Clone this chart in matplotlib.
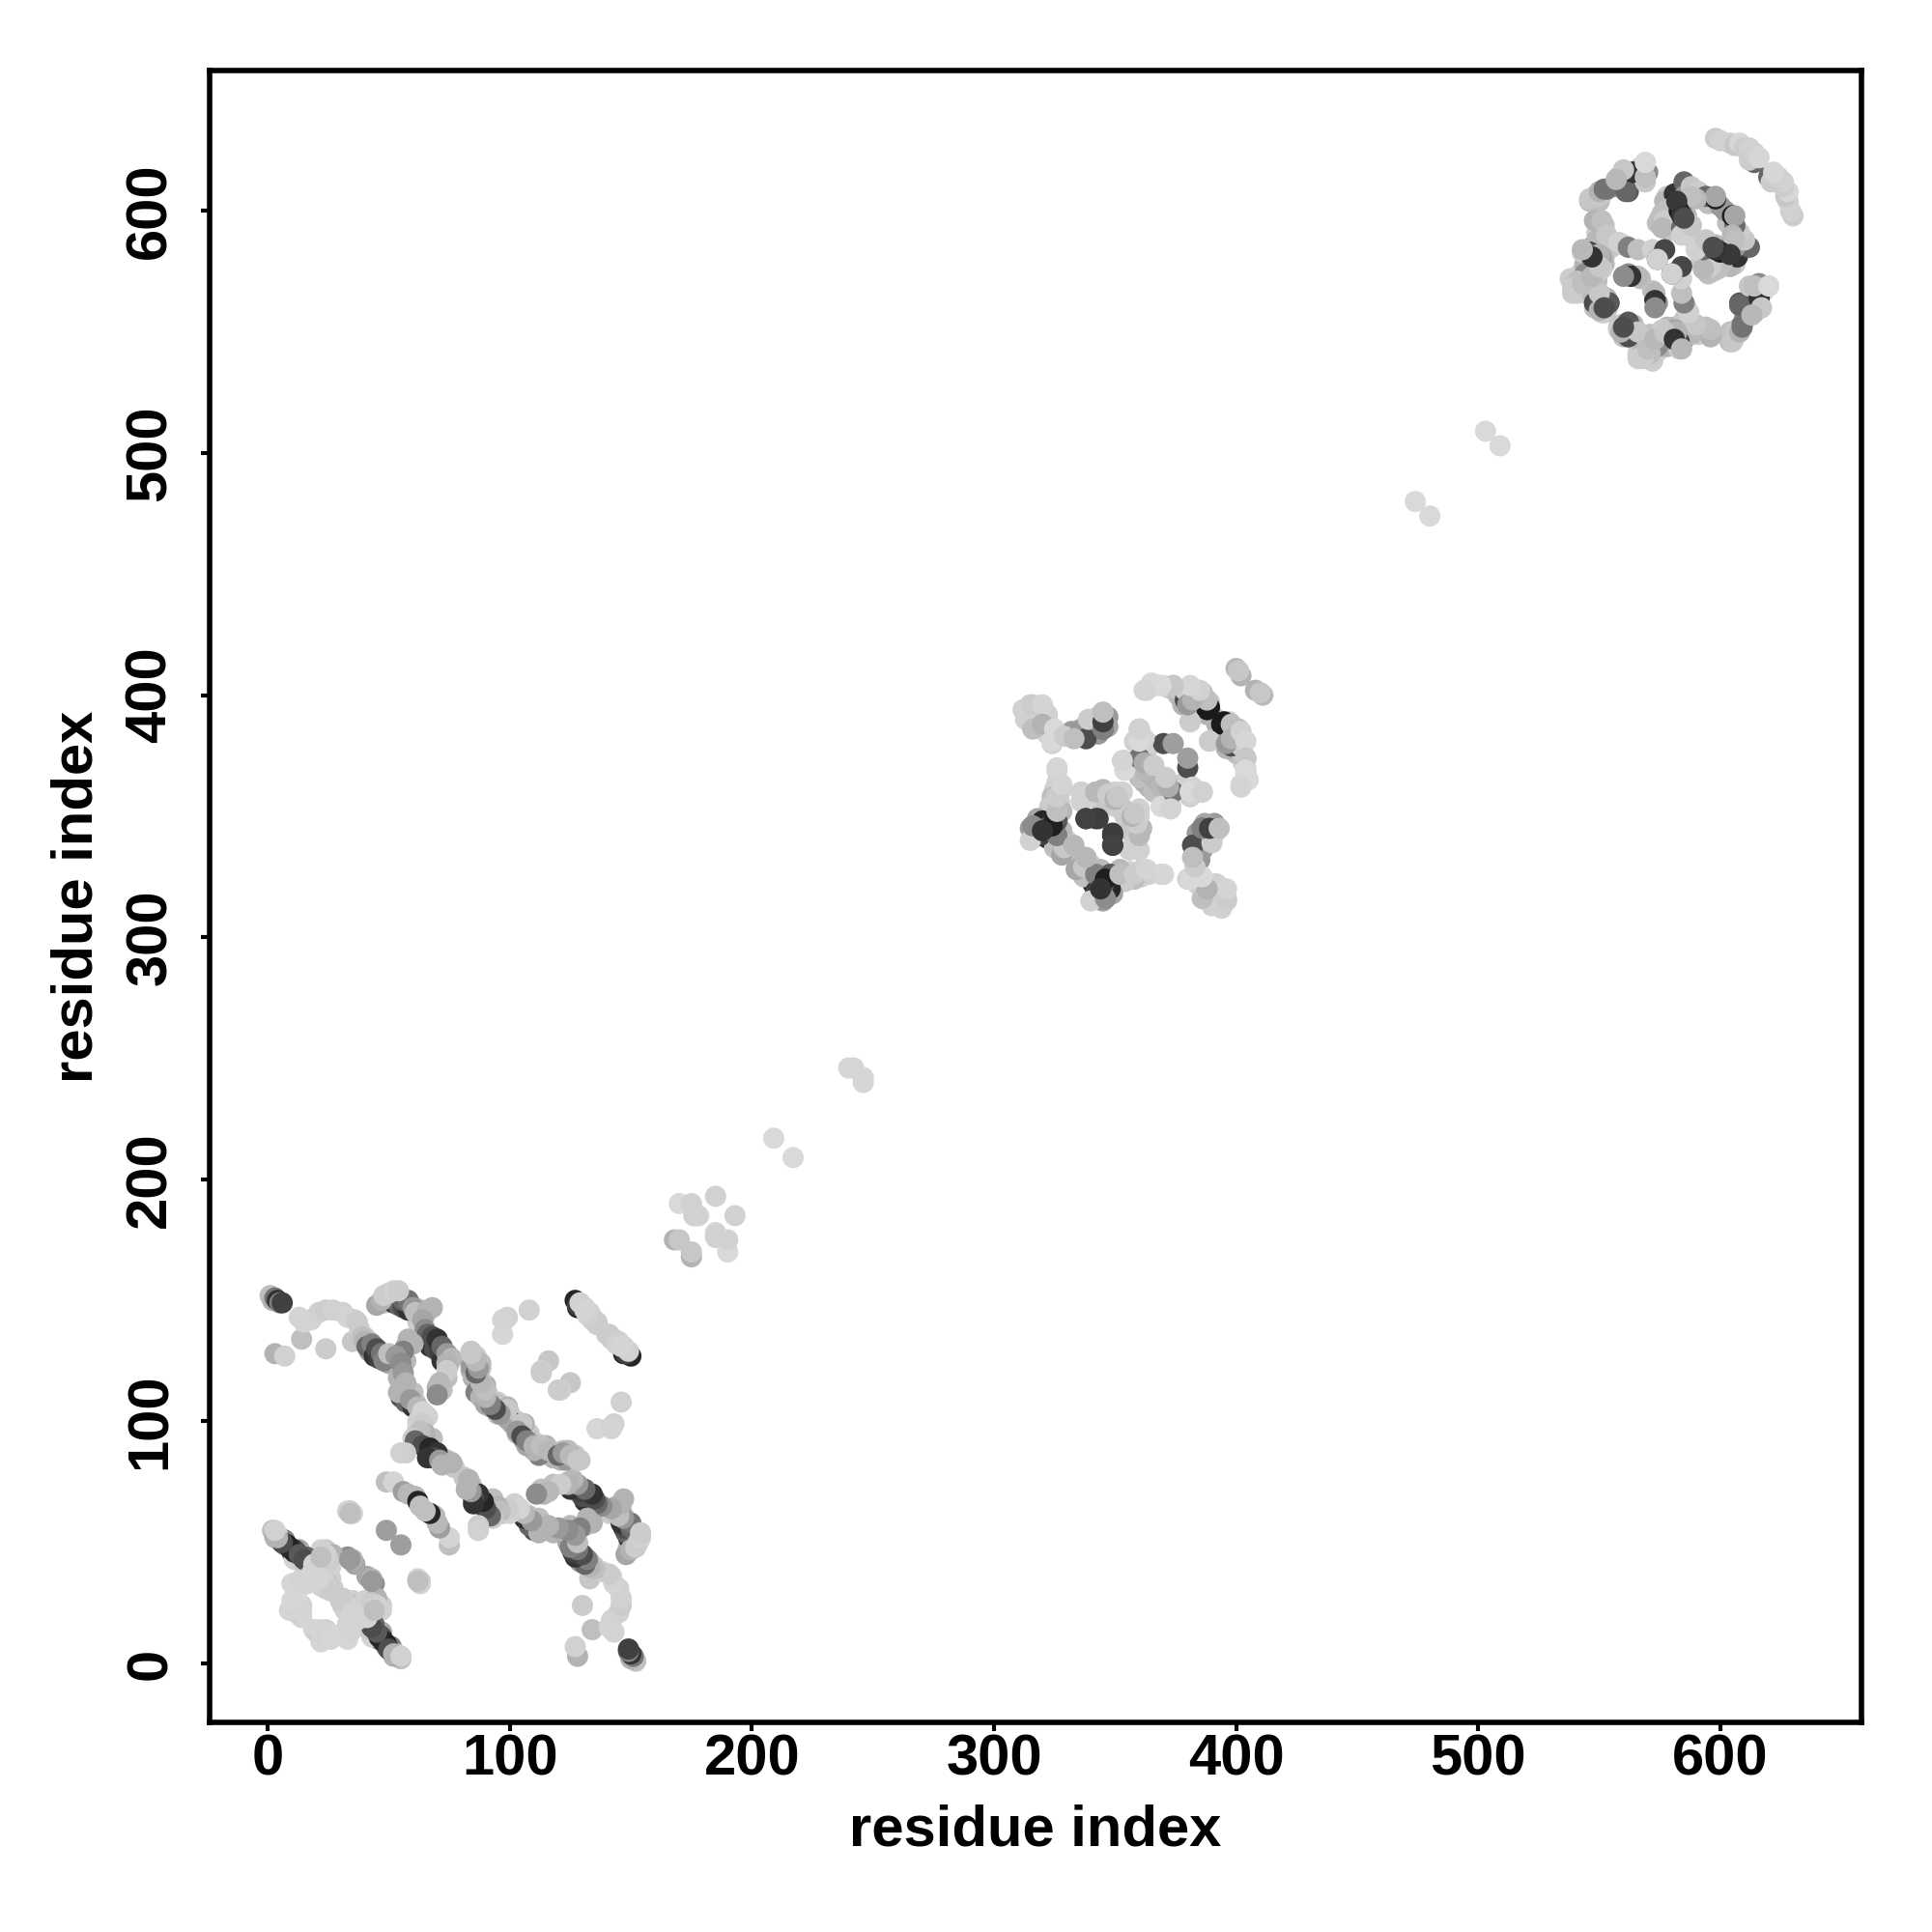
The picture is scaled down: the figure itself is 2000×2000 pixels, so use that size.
import numpy as np
import matplotlib
matplotlib.use("Agg")
import matplotlib.pyplot as plt

plt.rcParams['font.family'] = ['Liberation Sans', 'DejaVu Sans']

tick_values = [0, 100, 200, 300, 400, 500, 600]
axis_label = "residue index"

# Contact map is symmetric: each contact (i, j, shade) is drawn at (i, j) and (j, i).
# The *_under contacts are drawn first, the others on top of them.
domain1_under = [
 (42,129,.6),(44,131,.65),(46,129,.7),(49,127,.6),(52,125,.75),(50,124,.65),(53,125,.8),(40,135,.8),(42,133,.78),
 (48,149,.75),(50,151,.72),(53,151,.55),(55,149,.6),(57,148,.7),(59,148,.75),(61,147,.8),(63,146,.72),(65,144,.75),(62,141,.8),
 (67,134,.6),(70,132,.7),(72,128,.65),(73,127,.72),(75,124,.75),(70,129,.7),(68,132,.55),(66,133,.65),(65,135,.7),(74,118,.75),(72,113,.75),(70,114,.7),
 (57,131,.7),(55,127,.65),(57,125,.72),(54,118,.7),(56,113,.65),(58,111,.7),(61,108,.8),(60,112,.75),(63,102,.8),(66,102,.82),(62,97,.78),(66,93,.72),(68,93,.75),(63,92,.7),(66,88,.6),(69,85,.65),(72,85,.72),(74,84,.75),(77,81,.78),
 (85,127,.72),(88,122,.78),(87,120,.7),(89,115,.7),(88,114,.65),(90,113,.75),(91,110,.72),(93,107,.78),(95,108,.8),(97,105,.8),(96,103,.7),(100,103,.72),(103,100,.8),(104,97,.78),(106,96,.75),(107,94,.7),(106,92,.65),(109,92,.72),(111,91,.8),(112,88,.72),(115,90,.7),(118,87,.6),(118,85,.65),(121,84,.7),(124,88,.72),(127,86,.8),(124,85,.6),
 (3,52,.7),(7,51,.5),(10,46,.35),(12,44,.55),(13,47,.65),(14,45,.8),(11,43,.83),(24,42,.8),(26,44,.78),(24,47,.8),(33,44,.55),(36,41,.65),
 (14,33,.82),(15,36,.83),(20,36,.83),(22,33,.8),(24,31,.75),(26,35,.8),(27,30,.78),(13,24,.83),(11,24,.85),(14,19,.83),(12,21,.8),(22,9,.83),(25,11,.84),(24,14,.82),(27,12,.85),
 (33,26,.83),(32,22,.82),(34,18,.83),(35,14,.82),(33,10,.84),(36,24,.8),(40,26,.82),(42,24,.8),(45,27,.7),(47,22,.82),(41,17,.82),(43,17,.6),(44,16,.4),(46,12,.5),(47,10,.3),(49,7,.55),(51,5,.72),(53,4,.75),
]
domain1 = [
 (1,152,.75),(2,150,.7),(3,151,.45),(4,150,.2),(5,149,.5),(6,149,.25),
 (3,128,.7),(7,127,.82),(14,134,.75),(24,130,.8),(35,133,.78),
 (13,143,.83),(15,141,.83),(18,142,.83),(21,145,.82),(24,146,.8),(27,146,.82),(31,145,.82),
 (33,143,.83),(36,142,.82),(38,138,.82),(37,141,.8),
 (39,135,.75),(40,133,.7),(41,131,.4),(43,132,.5),(44,127,.2),(45,130,.3),(46,126,.25),(47,128,.45),
 (51,127,.4),(48,125,.5),(50,128,.75),
 (50,150,.3),(52,149,.2),(54,148,.4),(56,147,.3),(58,146,.2),(56,150,.4),(58,150,.45),
 (45,148,.65),(47,150,.7),(48,152,.8),(50,153,.8),(52,154,.82),(54,154,.8),
 (60,147,.6),(61,145,.75),(63,144,.75),(66,146,.7),(68,147,.7),(64,142,.65),(65,138,.55),
 (67,131,.2),(69,130,.3),(71,129,.25),(66,136,.4),(68,135,.3),(70,134,.2),(72,125,.2),(72,131,.4),
 (74,128,.6),(76,126,.72),(74,124,.7),(74,121,.8),(71,116,.72),(70,111,.55),
 (58,134,.7),(60,132,.7),(56,129,.5),(53,127,.6),(55,124,.55),(56,120,.6),(57,116,.7),
 (55,110,.3),(57,108,.4),(60,106,.2),(54,112,.7),(59,109,.6),(62,106,.72),(64,104,.83),
 (62,100,.82),(64,99,.8),(65,95,.7),(63,96,.75),(60,93,.8),
 (61,92,.4),(64,90,.3),(67,89,.15),(70,87,.2),(68,85,.3),(66,85,.2),(71,84,.6),(72,82,.7),(76,83,.7),
 (57,87,.8),(55,87,.82),
 (86,120,.3),(84,129,.78),(87,125,.75),(84,123,.6),(85,118,.7),(88,117,.78),(86,112,.5),(88,110,.7),
 (90,107,.65),(92,108,.75),(94,105,.75),(96,106,.8),(98,103,.1),(99,106,.7),(95,103,.75),
 (102,99,.2),(101,99,.65),(105,99,.78),(103,96,.6),(105,94,.3),(107,92,.5),(110,90,.7),(113,90,.75),
 (116,88,.72),(120,86,.4),(122,87,.6),(125,86,.72),(128,84,.78),
 (127,150,.15),(147,128,.15),(128,148,.25),(129,149,.82),(131,147,.82),(133,145,.83),(134,143,.82),
 (136,141,.8),(140,136,.8),(142,134,.8),(144,132,.82),(146,131,.83),
 (99,143,.82),(97,136,.84),(98,142,.82),(97,142,.83),(108,146,.82),(116,125,.78),(113,121,.82),(113,120,.8),
 (2,55,.75),(3,54,.6),(5,52,.5),(6,50,.15),(8,49,.1),(9,48,.15),(11,47,.25),(12,46,.35),(14,42,.8),
 (4,53,.85),(48,9,.15),(46,11,.15),(50,6,.3),(52,4,.7),(55,3,.82),(45,13,.35),(43,15,.3),
 (34,63,.78),(35,62,.82),(24,45,.75),(25,43,.8),(34,43,.6),(35,43,.7),(43,34,.6),
 (25,33,.75),(27,31,.8),(23,35,.82),(13,34,.83),(16,33,.83),(18,36,.84),
 (13,22,.83),(14,21,.83),(23,12,.83),(26,10,.84),
 (32,24,.82),(33,16,.83),(30,26,.8),(35,21,.83),(37,18,.83),(41,19,.83),(45,24,.82),(44,22,.75),
 (49,55,.62),(63,33,.82),(62,34,.75),
 (49,75,.75),(52,75,.83),(56,71,.62),(58,70,.72),(61,69,.72),(62,67,.15),(63,65,.75),
]

domain_small = [
 (168,175,.7),(170,175,.78),(170,190,.85),(175,190,.82),(176,185,.82),(178,185,.84),(185,193,.82),
 (177,185,.82),(209,217,.85),(240,246,.84),(242,246,.84),(474,480,.85),(503,509,.85),
]

domain2_under = [
 (318,394,.82),(322,392,.82),(318,388,.8),(322,384,.82),(327,384,.8),(335,384,.72),(340,386,.65),(341,388,.75),(343,384,.6),(343,391,.7),(347,391,.6),(347,387,.65),
 (368,404,.82),(372,403,.8),(376,400,.75),(378,396,.7),(380,400,.8),(384,399,.72),(386,397,.6),(390,392,.8),(392,388,.7),(394,385,.75),(396,383,.72),(397,378,.7),(400,380,.78),(402,377,.8),(399,386,.8),
 (361,383,.8),(363,377,.8),(358,381,.82),(362,369,.7),(358,370,.65),(363,372,.75),(364,362,.7),(366,360,.75),(368,364,.65),(366,366,.7),(369,362,.72),
 (326,364,.82),(325,359,.8),(327,356,.8),(324,351,.75),(326,349,.72),(322,347,.5),(320,345,.55),(318,345,.7),(323,344,.6),(328,343,.72),(330,340,.8),(331,335,.75),(325,340,.4),(335,332,.75),(338,330,.72),(340,327,.7),(344,328,.72),(346,322,.55),(349,324,.6),(347,318,.7),(350,323,.8),(354,325,.78),(356,327,.82),(361,325,.82),
 (340,358,.8),(345,361,.72),(350,360,.82),(352,355,.78),(354,350,.8),(356,344,.78),(357,349,.75),(358,339,.82),(356,336,.82),
 (384,343,.6),(386,345,.35),(388,343,.72),(390,342,.82),(383,336,.7),(385,332,.6),(380,324,.82),(391,322,.82),(394,317,.82),(392,314,.82),(390,313,.82),(396,315,.8),
]
domain2 = [
 (312,394,.82),(316,396,.8),(320,396,.83),(316,386,.75),(320,388,.7),(325,386,.85),(324,381,.85),
 (329,383,.8),(336,386,.6),(338,382,.3),(333,382,.75),(339,390,.8),(345,386,.5),(345,389,.25),(345,393,.75),
 (363,402,.83),(366,404,.84),(370,404,.85),(374,404,.78),(379,398,.3),(379,402,.8),(382,402,.85),
 (386,401,.72),(388,394,.1),(389,397,.78),(381,389,.8),(389,381,.8),(395,389,.1),(396,380,.6),
 (398,388,.75),(398,382,.7),(402,385,.82),(404,381,.84),(404,374,.78),(404,369,.85),(405,365,.85),(402,362,.83),
 (400,411,.72),(402,408,.7),(401,410,.78),
 (360,386,.82),(360,380,.8),(364,380,.82),(370,380,.3),(374,380,.62),
 (354,373,.82),(354,369,.85),(360,374,.45),(362,372,.68),(366,371,.8),
 (362,382,.83),(360,381,.85),(353,373,.83),(360,386,.82),
 (326,369,.82),(328,361,.82),(324,358,.75),(323,354,.8),(328,352,.72),
 (318,349,.65),(315,345,.62),(320,348,.15),(316,341,.82),(322,341,.1),(326,341,.55),(325,337,.75),
 (328,334,.7),(332,338,.78),(321,345,.35),(319,342,.25),
 (336,360,.82),(342,360,.72),(347,359,.8),(350,357,.7),(353,360,.82),(351,358,.78),
 (338,349,.22),(343,349,.24),(349,342,.24),(349,338,.26),
 (334,328,.65),(337,329,.78),(342,326,.5),(338,333,.72),(348,326,.35),(346,324,.12),
 (340,315,.82),(346,316,.55),(352,326,.75),(358,326,.8),(363,328,.83),(370,326,.84),(344,320,.2),
]

domain3_under = [
 (550,604,.75),(552,608,.7),(556,610,.6),(560,612,.72),(563,612,.75),(566,614,.7),(568,616,.72),(567,618,.8),
 (552,594,.75),(549,591,.8),(551,585,.7),(553,584,.75),(547,585,.5),(549,580,.45),(552,581,.72),(545,580,.4),(548,575,.6),(552,578,.72),(546,572,.7),(542,572,.8),(545,566,.75),(547,568,.6),(549,562,.45),(552,562,.7),(553,559,.78),(555,585,.78),(560,586,.8),
 (578,606,.8),(579,603,.65),(580,599,.75),(583,608,.7),(586,609,.75),(587,606,.8),(578,599,.8),(575,597,.78),(574,595,.75),(579,592,.78),(582,596,.7),(586,592,.8),(595,603,.75),(589,606,.8),(600,602,.6),(590,586,.8),(598,586,.72),(595,585,.8),
 (584,602,.45),(562,552,.6),(564,553,.7),(558,552,.78),(560,548,.75),(568,546,.8),(571,549,.75),(575,548,.8),(579,546,.6),(582,547,.72),(574,542,.8),(572,538,.8),(568,541,.82),(566,541,.8),(578,544,.7),(585,550,.78),(581,551,.65),
]
domain3 = [
 (598,630,.8),(600,629,.82),(604,628,.82),(606,627,.78),(608,628,.84),(610,626,.8),(612,626,.82),
 (614,620,.4),(612,621,.8),(614,624,.82),(616,622,.84),
 (546,604,.75),(548,606,.8),(550,606,.78),(553,609,.45),(558,614,.7),(560,616,.78),(562,608,.35),(564,616,.3),
 (569,612,.78),(570,616,.55),(569,620,.85),
 (548,596,.7),(551,596,.75),(549,588,.72),(553,590,.78),(546,583,.25),(548,582,.35),(550,582,.7),(543,583,.8),
 (547,578,.65),(551,576,.8),(544,574,.55),(541,571,.75),(539,568,.8),(543,568,.72),(550,566,.8),
 (548,562,.3),(554,562,.38),(551,558,.8),(558,587,.82),(562,585,.5),(566,584,.75),
 (562,574,.55),(564,573,.1),(567,572,.75),
 (572,584,.82),(574,580,.3),(577,584,.28),(580,574,.82),
 (573,566,.72),(573,563,.2),(573,560,.55),
 (577,604,.72),(581,607,.2),(581,603,.12),(579,601,.75),(585,612,.4),(585,606,.6),(588,610,.78),(591,608,.8),
 (594,606,.42),(598,605,.12),(598,606,.65),
 (576,599,.75),(577,596,.8),(576,593,.72),(584,593,.42),(584,590,.82),(588,594,.78),
 (594,588,.78),(590,605,.72),(588,606,.75),(583,600,.12),(582,604,.22),
 (584,598,.2),(585,597,.3),
 (562,554,.35),(559,550,.7),(566,550,.78),(560,552,.3),
 (539,566,.8),(543,570,.75),(547,573,.72),(550,577,.78),(547,581,.2),(543,584,.72),
 (546,605,.78),(550,608,.7),(552,609,.45),(561,608,.4),(564,616,.2),(569,614,.75),(569,620,.85),(560,617,.78),(557,613,.72),
]

contacts = np.array(domain1_under + domain2_under + domain3_under
                    + domain1 + domain_small + domain2 + domain3)
i_values = contacts[:, 0]
j_values = contacts[:, 1]
shades = contacts[:, 2]

x = np.ravel(np.column_stack([i_values, j_values]))
y = np.ravel(np.column_stack([j_values, i_values]))
g = np.repeat(shades, 2)

fig = plt.figure(figsize=(20, 20), dpi=100)
L, R, T, B = 216.5, 1927, 73, 1783
ax = fig.add_axes([L/2000, 1-B/2000, (R-L)/2000, (B-T)/2000])
ax.scatter(x, y, s=250, c=[(v, v, v) for v in g], linewidths=0, zorder=3)
ax.set_xlim(-24.2, 658.3)
ax.set_ylim(-24.3, 658.0)
for s in ax.spines.values():
    s.set_linewidth(4)
ax.set_xticks(tick_values)
ax.set_yticks(tick_values)
ax.set_xticklabels([str(v) for v in tick_values], fontsize=43, fontweight='bold')
ax.set_yticklabels([str(v) for v in tick_values], fontsize=43, fontweight='bold', rotation=90, va='center')
ax.tick_params(axis='x', length=6.5, width=3, pad=2)
ax.tick_params(axis='y', length=6.5, width=3, pad=17)
ax.set_xlabel(axis_label, fontsize=43, fontweight='bold', labelpad=0)
ax.set_ylabel(axis_label, fontsize=43, fontweight='bold', labelpad=0)
ax.xaxis.set_label_coords(0.5, -0.0495)
ax.yaxis.set_label_coords(-0.0635, 0.5)
fig.savefig("out.png", dpi=100, facecolor='white')
